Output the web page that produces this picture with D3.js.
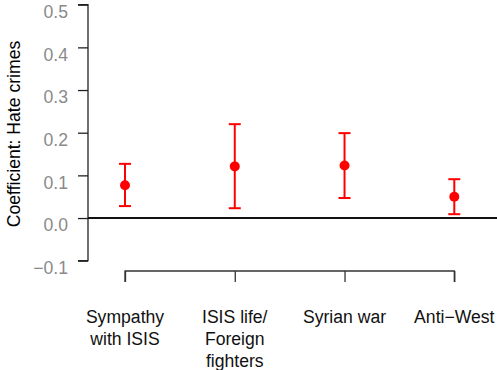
<!DOCTYPE html>
<html>
<head>
<meta charset="utf-8">
<script src="https://cdn.jsdelivr.net/npm/d3@7"></script>
<style>
  body { margin: 0; background: #fff; }
  text { font-family: "Liberation Sans", Arial, sans-serif; }
</style>
</head>
<body>
<div id="chart"></div>
<script>
// data
const categories = [["Sympathy", "with ISIS"], ["ISIS life/", "Foreign", "fighters"], ["Syrian war"], ["Anti\u2212West"]];
const estimates = [0.077, 0.121, 0.123, 0.050];
const lowerCI = [0.028, 0.023, 0.047, 0.009];
const upperCI = [0.127, 0.220, 0.199, 0.091];
const yTicks = [-0.1, 0, 0.1, 0.2, 0.3, 0.4, 0.5];

const fontSize = 17.6;

const svg = d3.select("#chart")
  .append("svg")
  .attr("width", 497)
  .attr("height", 370);

const y = d3.scaleLinear().domain([-0.1, 0.5]).range([260.7, 4.7]);
const x = d3.scaleLinear().domain([1, 4]).range([125, 454.3]);

// y axis
const yAxis = svg.append("g")
  .attr("transform", "translate(88,0)")
  .call(d3.axisLeft(y).tickValues(yTicks).tickSize(10).tickPadding(10)
    .tickFormat(d => d3.format(".1f")(d).replace("-", "\u2212")));
yAxis.select(".domain").attr("stroke", "#222").attr("stroke-width", 1.3)
  .attr("d", `M-10,${y(0.5)}H0V${y(-0.1)}H-10`);
yAxis.selectAll(".tick line").attr("stroke", "#222").attr("stroke-width", 1.3);
yAxis.selectAll(".tick text")
  .attr("fill", "#8a8a8a")
  .attr("font-size", fontSize)
  .attr("dy", "0.72em");

// y title
svg.append("text")
  .attr("transform", `translate(20,${(40 + 228) / 2}) rotate(-90)`)
  .attr("text-anchor", "middle")
  .attr("font-size", fontSize)
  .attr("fill", "#000")
  .text("Coefficient: Hate crimes");

// zero reference line
svg.append("line")
  .attr("x1", 88).attr("x2", 497)
  .attr("y1", y(0)).attr("y2", y(0))
  .attr("stroke", "#111")
  .attr("stroke-width", 2);

// x axis
const xAxis = svg.append("g")
  .attr("transform", "translate(0,271)")
  .call(d3.axisBottom(x).tickValues([1, 2, 3, 4]).tickSize(11).tickFormat(""));
xAxis.select(".domain").attr("stroke", "#333").attr("stroke-width", 1.3)
  .attr("d", `M${x(1)},11V0H${x(4)}V11`);
xAxis.selectAll(".tick line").attr("stroke", "#333").attr("stroke-width", 1.3);

// category labels
categories.forEach((lines, i) => {
  const t = svg.append("text")
    .attr("x", x(i + 1))
    .attr("y", 322.7)
    .attr("text-anchor", "middle")
    .attr("font-size", fontSize)
    .attr("fill", "#111");
  lines.forEach((l, j) => {
    t.append("tspan").attr("x", x(i + 1)).attr("dy", j === 0 ? 0 : 22.3).text(l);
  });
});

// error bars
const idx = d3.range(estimates.length);
const bars = svg.append("g").attr("stroke", "#ff0000").attr("stroke-width", 2);
bars.selectAll(".v").data(idx).join("line")
  .attr("x1", i => x(i + 1)).attr("x2", i => x(i + 1))
  .attr("y1", i => y(lowerCI[i])).attr("y2", i => y(upperCI[i]));
bars.selectAll(".lo").data(idx).join("line")
  .attr("x1", i => x(i + 1) - 6).attr("x2", i => x(i + 1) + 6)
  .attr("y1", i => y(lowerCI[i])).attr("y2", i => y(lowerCI[i]));
bars.selectAll(".hi").data(idx).join("line")
  .attr("x1", i => x(i + 1) - 6).attr("x2", i => x(i + 1) + 6)
  .attr("y1", i => y(upperCI[i])).attr("y2", i => y(upperCI[i]));

svg.append("g").selectAll("circle").data(idx).join("circle")
  .attr("cx", i => x(i + 1))
  .attr("cy", i => y(estimates[i]))
  .attr("r", 5)
  .attr("fill", "#ff0000");
</script>
</body>
</html>
